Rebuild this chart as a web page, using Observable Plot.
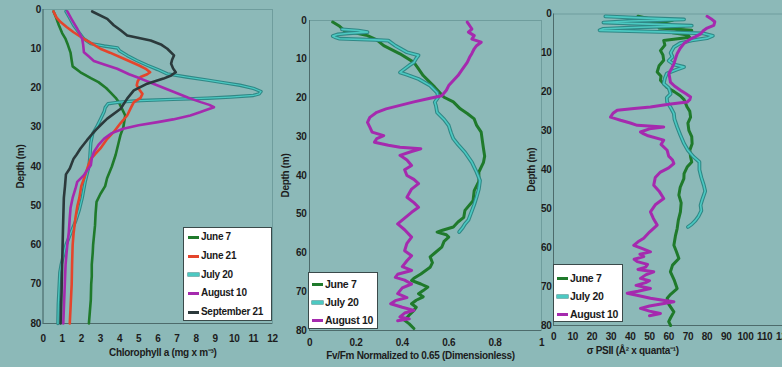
<!DOCTYPE html>
<html>
<head>
<meta charset="utf-8">
<script src="https://cdn.jsdelivr.net/npm/d3@7"></script>
<script src="https://cdn.jsdelivr.net/npm/@observablehq/plot@0.6"></script>
<style>
  html, body { margin: 0; padding: 0; }
  body { width: 782px; height: 367px; overflow: hidden; background: #8cb9b8; }
  #chart { position: relative; width: 782px; height: 367px; overflow: hidden; }
  #chart > svg, #chart > .legend { position: absolute; }
  .legend { background: #fff; border: 1px solid #3a4a4a; box-sizing: border-box;
    font-family: "Liberation Sans", Arial, sans-serif; letter-spacing: -0.3px;
    font-weight: bold; color: #1a1a1a; }
  .legend .row { position: absolute; white-space: nowrap; line-height: 1; }
  .legend .sw { display: inline-block; vertical-align: middle; height: 3px; margin-right: 2px; }
</style>
</head>
<body>
<div id="chart"></div>
<script>
// ---------- data: [depth (m), value] ----------
const depthTicks = [0, 10, 20, 30, 40, 50, 60, 70, 80];
const chlTicks = [0, 1, 2, 3, 4, 5, 6, 7, 8, 9, 10, 11, 12];
const fvTicks = [0, 0.2, 0.4, 0.6, 0.8, 1];
const psiiTicks = [0, 10, 20, 30, 40, 50, 60, 70, 80, 90, 100, 110, 120];

const seriesNames5 = ["June 7", "June 21", "July 20", "August 10", "September 21"];
const seriesNames3 = ["June 7", "July 20", "August 10"];

const chlJune7 = [[0.5,0.55],[2,0.68],[4,0.83],[6,1.0],[7.5,1.18],[9,1.3],[11,1.44],[13,1.5],[14.5,1.55],[16,1.96],[17.5,2.5],[18.5,2.9],[20,3.3],[21,3.5],[22.5,3.8],[23.5,3.95],[25,4.1],[27,4.3],[30,4.2],[32,4.05],[34,3.95],[37,3.8],[40,3.6],[43,3.35],[45,3.25],[47,3.0],[49,2.8],[52,2.75],[55,2.72],[57,2.68],[60,2.62],[62,2.6],[65,2.55],[68,2.55],[70,2.52],[74,2.5],[77,2.45],[80,2.4]];
const chlJune21 = [[0.5,0.55],[2,0.7],[3.2,0.92],[4.5,1.25],[5.8,1.6],[7.5,2.14],[8.5,2.5],[10,3.0],[11,3.5],[12.5,4.2],[14.2,5.0],[15.2,5.4],[16,5.6],[16.5,5.45],[17.2,5.1],[18.3,4.95],[19.3,4.9],[20.5,5.05],[21.5,5.2],[22.5,5.1],[23.6,4.75],[25,4.6],[27,4.4],[29,4.05],[31.2,3.7],[33,3.35],[35.4,3.0],[37,2.7],[38,2.5],[40,2.35],[43,2.15],[45,2.0],[48,1.9],[50,1.8],[53,1.7],[55,1.65],[57,1.6],[60,1.55],[65,1.52],[70,1.5],[75,1.45],[80,1.4]];
const chlJuly20 = [[0.5,1.2],[2,1.38],[4,1.6],[6,1.9],[7.5,2.14],[8.7,2.5],[9.3,3.2],[9.8,3.9],[10.5,4.0],[11.7,4.4],[13,4.9],[14.2,5.45],[15.3,6.0],[16.4,6.5],[17.2,7.5],[18,8.6],[18.7,9.5],[19.3,10.3],[20.1,11.0],[20.9,11.4],[21.5,11.3],[21.9,11.0],[22.3,9.8],[22.6,8.6],[22.9,6.8],[23.2,5.1],[23.6,4.0],[24,3.4],[25,3.25],[26,3.2],[28,3.0],[30,2.8],[31.6,2.6],[34,2.5],[37.6,2.45],[40,2.4],[44,2.2],[48,2.05],[51,1.9],[54,1.7],[57,1.45],[60,1.2],[63,1.05],[65,0.95],[67,0.88],[70,0.85],[75,0.8],[80,0.78]];
const chlAug10 = [[0.5,1.27],[2.5,1.5],[4.9,1.79],[7.5,2.05],[9,2.1],[10.9,2.14],[12,2.4],[13.1,2.66],[14,3.2],[15.1,3.88],[16.5,4.5],[17.6,5.1],[19,5.8],[21,6.85],[22.5,7.6],[23.6,8.25],[24.3,8.7],[24.9,8.94],[25.5,8.6],[26.2,8.2],[27,7.7],[28,6.8],[28.7,6.0],[29.5,5.0],[30.4,4.2],[31.5,3.6],[32.9,3.2],[34.5,2.9],[36.3,2.66],[38,2.55],[39.7,2.5],[41,2.3],[42.2,2.14],[43.9,1.79],[45.6,1.7],[48,1.55],[50.6,1.44],[53,1.4],[56.7,1.35],[60,1.27],[65,1.18],[70,1.14],[75,1.1],[80,1.06]];
const chlSep21 = [[0.5,2.57],[2.4,3.36],[4,3.7],[5.3,4.06],[6.6,4.4],[7.9,5.63],[9,6.2],[10,6.5],[11.7,6.85],[12.8,6.75],[13.8,6.7],[15,6.8],[16,6.94],[16.8,6.7],[17.6,6.3],[18.9,5.45],[20.6,4.75],[22.7,4.4],[25.3,4.06],[27.8,3.36],[29.5,3.0],[31.2,2.66],[33.3,2.3],[35.4,1.96],[37,1.75],[38,1.6],[40.5,1.4],[42,1.2],[45,1.15],[48,1.09],[55,1.05],[65,1.0],[72,0.97],[80,0.92]];

const fvJune7 = [[0.4,0.1],[1.5,0.13],[2.6,0.15],[3.9,0.25],[5,0.29],[6.5,0.32],[8.6,0.39],[10.8,0.45],[12.5,0.47],[14.2,0.49],[17.2,0.54],[19.8,0.58],[21,0.62],[22.8,0.65],[24,0.68],[25.4,0.71],[27,0.72],[28.8,0.74],[31,0.745],[33.1,0.75],[35,0.755],[36.6,0.75],[39.1,0.73],[41.5,0.73],[43.9,0.71],[46.5,0.705],[49,0.67],[50.8,0.665],[52,0.64],[53.3,0.62],[54.2,0.57],[54.6,0.55],[55.3,0.59],[55.9,0.6],[57,0.58],[58.5,0.57],[60,0.54],[61,0.52],[62.5,0.53],[63.7,0.52],[65.4,0.48],[66.5,0.45],[67.1,0.44],[68,0.48],[68.8,0.51],[69.7,0.49],[70.5,0.47],[71.3,0.49],[72.2,0.46],[73.1,0.44],[74,0.46],[74.8,0.45],[76,0.43],[77.4,0.41],[78.3,0.43],[79.5,0.45]];
const fvJuly20 = [[2.3,0.14],[2.6,0.21],[3.0,0.25],[3.3,0.17],[3.6,0.12],[4.0,0.1],[4.3,0.11],[4.7,0.13],[5.0,0.28],[5.2,0.34],[6.5,0.37],[8.2,0.42],[9,0.47],[9.8,0.46],[10.8,0.45],[11.6,0.43],[12.5,0.41],[13.4,0.39],[14,0.42],[15.1,0.47],[16.8,0.52],[18.6,0.55],[19.8,0.555],[21.1,0.54],[22,0.545],[23.7,0.55],[25.5,0.58],[27.1,0.6],[29,0.61],[30.5,0.62],[32,0.64],[34,0.67],[36.6,0.7],[39.1,0.72],[41.3,0.735],[43.5,0.73],[45.6,0.72],[47.5,0.71],[49.9,0.695],[51.5,0.685],[52.5,0.67],[53.5,0.66],[54.6,0.645]];
const fvAug10 = [[0.4,0.68],[1.3,0.69],[2.2,0.7],[3.0,0.685],[3.9,0.71],[4.8,0.7],[5.6,0.74],[6.5,0.72],[7.3,0.71],[8.5,0.7],[9.5,0.69],[10.8,0.68],[12.5,0.66],[14.2,0.64],[15.5,0.62],[16.8,0.6],[18,0.59],[19.4,0.57],[20.2,0.51],[21,0.45],[21.9,0.39],[22.8,0.33],[23.7,0.29],[25,0.26],[26.3,0.25],[27.5,0.26],[28.8,0.27],[29.7,0.32],[30.5,0.29],[31.4,0.28],[32.2,0.34],[32.7,0.39],[33.1,0.48],[33.8,0.44],[34.8,0.39],[36,0.42],[37.4,0.44],[38.5,0.41],[40,0.42],[41,0.45],[42.1,0.47],[43.5,0.44],[45.6,0.42],[47,0.45],[48.2,0.47],[49.5,0.44],[51,0.41],[52.5,0.38],[54,0.41],[55.9,0.44],[57.5,0.42],[59.4,0.41],[60.7,0.44],[62,0.42],[63.5,0.4],[64.5,0.44],[65.5,0.38],[66.3,0.37],[67,0.41],[68,0.44],[69,0.4],[70.5,0.38],[71.5,0.42],[72.3,0.37],[73.1,0.35],[74,0.4],[74.8,0.45],[75.5,0.41],[76.5,0.39],[77,0.43],[77.5,0.38]];

const psiiJune7 = [[0.6,44],[1.2,50],[1.6,62],[2.1,57],[2.6,48],[3.1,68],[3.6,55],[4.2,72],[4.8,62],[5.4,70],[6,71],[6.8,57.4],[8,58],[9.4,55.7],[10.5,57],[11.9,57.4],[13.3,55],[14.9,54],[16,56],[17,55.7],[18.8,59],[20,63],[21,66],[22,68],[23.9,69.6],[25,71],[26.5,71.4],[28,70],[29.9,70.5],[31.5,72],[33.3,72.2],[35,71],[36.7,71.4],[38,72],[39.3,69.6],[41,68],[42.3,67.9],[44.5,66],[46.5,65.3],[48.5,66.5],[50.8,66.1],[53,65],[55.1,64.4],[57,63.5],[59.4,62.7],[61,64],[62.8,65.3],[64.5,62],[66.2,60.9],[68.5,63],[70.5,64.4],[72,61],[73,59.2],[74.5,60],[76.5,62.7],[78,61],[79,60],[80,61]];
const psiiJuly20 = [[0.6,27],[1.0,45],[1.4,68],[1.8,40],[2.2,26],[2.6,50],[3.0,72],[3.4,45],[3.8,26],[4.2,24],[4.6,55],[5.0,78],[5.6,83],[6.2,80],[6.8,72],[7.5,66],[8.5,62.7],[10,61],[11,62],[12,60],[13,63],[13.6,68],[14.3,64],[15.3,59],[16.5,58],[17.9,57.4],[19,60],[20.5,61],[21.5,59],[22.6,59.2],[24,61],[25.6,62.7],[27,63],[29,64.4],[31,66],[33.3,68],[35,70],[36.7,73],[38,76],[40,76],[42,77],[44,78.3],[45.5,79],[47.8,77.4],[49.1,76.6],[50.5,77],[52,75.5],[53,74],[54,72],[54.7,70]];
const psiiAug10 = [[0.6,80],[1.2,82],[2,84],[2.9,83.5],[3.6,80],[4.3,78],[5.1,76.6],[5.8,74],[6.4,71.4],[7.6,67.9],[8.8,66],[10.2,64.4],[11.5,63.5],[12.8,62.7],[14,61.5],[15.3,60.1],[16.3,60.5],[17.5,60.9],[18.5,63],[19.6,66.1],[20.5,69],[21.3,71.4],[22,71],[22.6,69.6],[23.2,60],[23.9,50.5],[24.3,42],[24.7,33.2],[25.5,31],[26.5,29.7],[27,33],[27.3,34.9],[28,40],[28.6,43.6],[29,57.4],[29.5,50],[30.3,45.3],[30.8,47],[31.2,48.8],[32.4,57.4],[33.5,56],[35,59.2],[36.5,60],[37.5,62],[38.4,62.7],[39.5,60],[40.6,55.7],[42,53],[44,52.2],[45.5,55],[47.4,57.4],[49,53],[50.8,50.5],[52.5,52],[54.2,54],[56,50],[57.6,47],[58.5,44],[59.4,41.8],[60.2,46],[61.1,50.5],[61.7,45],[62.3,47],[63,42],[63.6,43.6],[64.3,49],[65,48],[65.6,44],[66.2,52.2],[67,48],[67.9,45.3],[68.5,50],[69,48],[69.7,43],[70.5,50.5],[71.2,44],[71.7,38.4],[72.3,44],[73,50.5],[73.5,57],[73.9,62.7],[74.5,56],[75,50],[75.6,45.3],[76.3,50],[76.9,55.7],[77.5,50]];

// ---------- styling ----------
const FONT = '"Liberation Sans", Arial, sans-serif';
const COLORS = {
  "June 7": "#1f7a2b",
  "June 21": "#e4452c",
  "July 20": "#4cc9c2",
  "August 10": "#a52aae",
  "September 21": "#2b393b"
};
const CYAN_EDGE = "#2f8886";
const FRAME = "#6f9d9d";
const AXIS = "#4d6b6b";

function seriesMarks(name, data, w) {
  const opts = {x: d => d[1], y: d => d[0], curve: "linear", strokeLinejoin: "round", strokeLinecap: "round"};
  if (name === "July 20") {
    return [
      Plot.line(data, {...opts, stroke: CYAN_EDGE, strokeWidth: w + 0.8}),
      Plot.line(data, {...opts, stroke: COLORS[name], strokeWidth: Math.max(1, w - 1.4)})
    ];
  }
  return [Plot.line(data, {...opts, stroke: COLORS[name], strokeWidth: w})];
}

function makePanel(cfg) {
  const svg = Plot.plot({
    width: cfg.width, height: 367,
    marginLeft: cfg.ml, marginRight: cfg.mr, marginTop: cfg.mt, marginBottom: cfg.mb,
    style: {background: "transparent", fontFamily: FONT, fontSize: "10px", fontWeight: "bold", color: "#1c1c1c", overflow: "visible", letterSpacing: "-0.3px"},
    x: {domain: cfg.xDomain, ticks: cfg.xTicks, tickFormat: cfg.xFormat, tickSize: 0, tickPadding: cfg.xPad, label: null},
    y: {domain: [depthTicks[0], depthTicks[depthTicks.length - 1]], reverse: true, ticks: depthTicks, tickSize: 0, tickPadding: cfg.yPad,
        label: "Depth (m)", labelAnchor: "center", labelOffset: cfg.yLabelOffset, labelArrow: "none"},
    marks: [
      Plot.frame({stroke: FRAME, strokeWidth: 1}),
      Plot.ruleY([depthTicks[depthTicks.length - 1]], {stroke: AXIS, strokeWidth: 1.2}),
      Plot.ruleX([cfg.xDomain[0]], {stroke: AXIS, strokeWidth: 1}),
      ...cfg.series.flatMap(([name, data]) => seriesMarks(name, data, cfg.lineWidth)),
      Plot.text([cfg.xLabel], {text: d => d, frameAnchor: "bottom", dy: cfg.xLabelDy, dx: cfg.xLabelDx, fontSize: 10, fontWeight: "bold", fill: "#1c1c1c"})
    ]
  });
  svg.style.left = cfg.left + "px";
  svg.style.top = "0px";
  return svg;
}

function makeLegend(names, box) {
  const div = document.createElement("div");
  div.className = "legend";
  Object.assign(div.style, {left: box.left + "px", top: box.top + "px", width: box.width + "px", height: box.height + "px", fontSize: box.fontSize + "px"});
  names.forEach((name, i) => {
    const row = document.createElement("div");
    row.className = "row";
    row.style.left = box.padLeft + "px";
    row.style.top = (box.firstRow + i * box.step - box.fontSize / 2) + "px";
    const sw = document.createElement("span");
    sw.className = "sw";
    sw.style.width = box.swatch + "px";
    sw.style.background = COLORS[name];
    if (name === "July 20") sw.style.boxShadow = "0 0 0 0.6px " + CYAN_EDGE;
    row.appendChild(sw);
    row.appendChild(document.createTextNode(name));
    div.appendChild(row);
  });
  return div;
}

const chart = document.getElementById("chart");

chart.appendChild(makePanel({
  left: 0, width: 275, ml: 42.5, mr: 3, mt: 9, mb: 44,
  xDomain: [chlTicks[0], chlTicks[chlTicks.length - 1]], xTicks: chlTicks, xFormat: d => String(d), xPad: 11, yPad: 2, yLabelOffset: 26,
  xLabel: "Chlorophyll a (mg x m⁻³)", xLabelDy: 32, xLabelDx: 5, lineWidth: 2.6,
  series: [["June 7", chlJune7], ["July 20", chlJuly20], ["June 21", chlJune21], ["August 10", chlAug10], ["September 21", chlSep21]]
}));

chart.appendChild(makePanel({
  left: 275, width: 270, ml: 34, mr: 4, mt: 20, mb: 37,
  xDomain: [fvTicks[0], fvTicks[fvTicks.length - 1]], xTicks: fvTicks, xFormat: d => String(d), xPad: 8, yPad: 3, yLabelOffset: 28,
  xLabel: "Fv/Fm Normalized to 0.65 (Dimensionless)", xLabelDy: 28, xLabelDx: -5, lineWidth: 3,
  series: [["June 7", fvJune7], ["July 20", fvJuly20], ["August 10", fvAug10]]
}));

chart.appendChild(makePanel({
  left: 515, width: 270, ml: 38, mr: 1.6, mt: 13.5, mb: 42,
  xDomain: [psiiTicks[0], psiiTicks[psiiTicks.length - 1]], xTicks: psiiTicks, xFormat: d => String(d), xPad: 7, yPad: 2, yLabelOffset: 26,
  xLabel: "σ PSII (Å² x quanta⁻¹)", xLabelDy: 28, xLabelDx: -36, lineWidth: 3,
  series: [["June 7", psiiJune7], ["July 20", psiiJuly20], ["August 10", psiiAug10]]
}));

chart.appendChild(makeLegend(seriesNames5, {left: 183, top: 227, width: 89, height: 94, fontSize: 10, padLeft: 4, firstRow: 9, step: 18.8, swatch: 11}));
chart.appendChild(makeLegend(seriesNames3, {left: 308, top: 272, width: 70, height: 57, fontSize: 10.5, padLeft: 3, firstRow: 11, step: 18, swatch: 11}));
chart.appendChild(makeLegend(seriesNames3, {left: 553, top: 264, width: 70, height: 58, fontSize: 10.5, padLeft: 3, firstRow: 13, step: 18, swatch: 11}));
</script>
</body>
</html>
